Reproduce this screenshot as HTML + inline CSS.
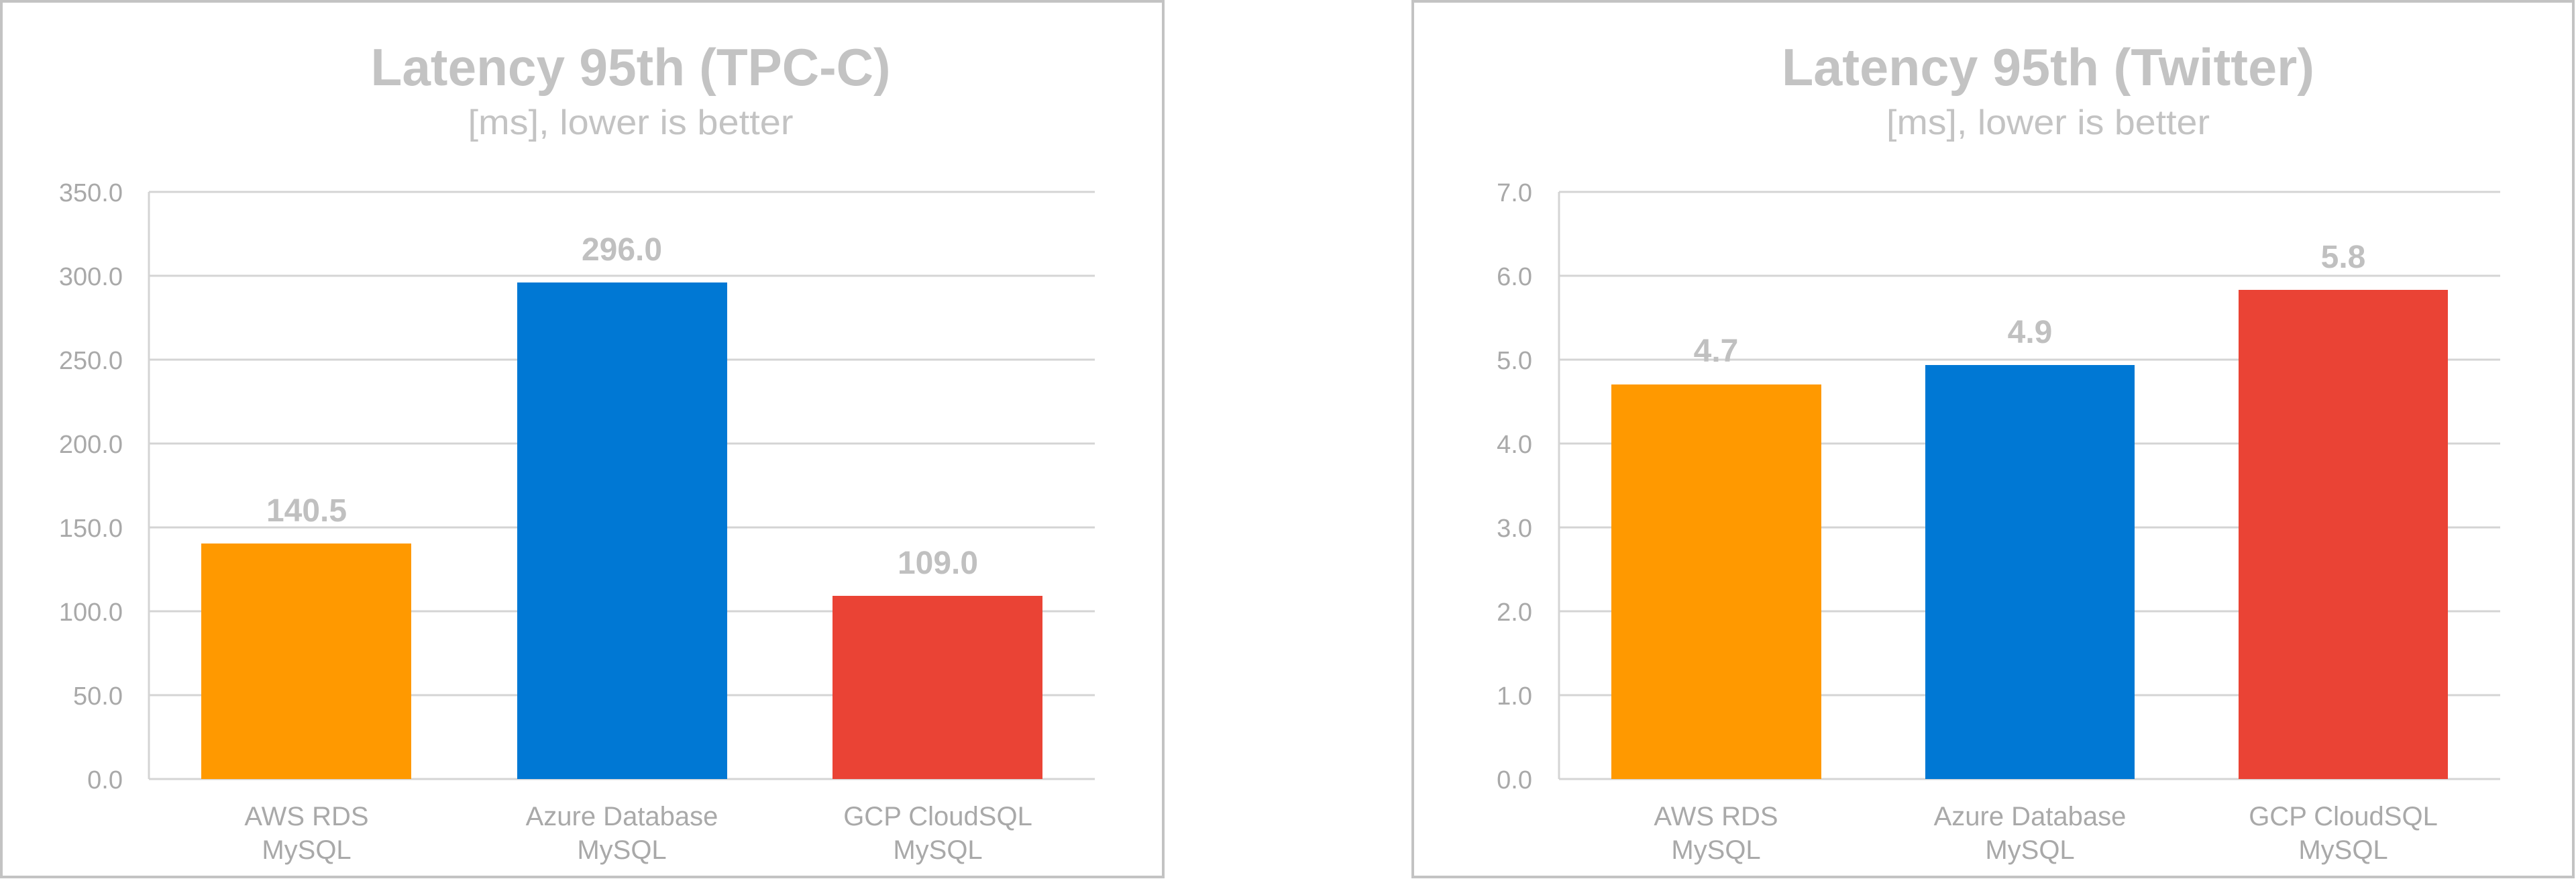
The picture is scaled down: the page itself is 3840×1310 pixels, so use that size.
<!DOCTYPE html>
<html><head><meta charset="utf-8"><style>
html,body{margin:0;padding:0;background:#fff;}
svg{display:block;}
text{font-family:"Liberation Sans Narrow","Liberation Sans",sans-serif;}
.t{font-weight:bold;font-size:78px;fill:#c3c3c3;}
.s{font-size:52px;fill:#c3c3c3;}
.y{font-size:38px;fill:#a9a9a9;}
.v{font-weight:bold;font-size:48px;fill:#c0c0c0;}
.c{font-size:40px;fill:#a9a9a9;}
.g{stroke:#d4d4d4;stroke-width:3;}
</style></head><body>
<svg width="3840" height="1310" viewBox="0 0 3840 1310" xmlns="http://www.w3.org/2000/svg">
<rect width="3840" height="1310" fill="#fff"/>
<!-- LEFT CHART -->
<rect x="2" y="2" width="1732" height="1305" fill="none" stroke="#c3c3c3" stroke-width="4"/>
<text class="t" x="940" y="127" text-anchor="middle" textLength="775" lengthAdjust="spacingAndGlyphs">Latency 95th (TPC-C)</text>
<text class="s" x="940" y="200" text-anchor="middle" textLength="485" lengthAdjust="spacingAndGlyphs">[ms], lower is better</text>
<g class="g">
<line x1="222" y1="286" x2="1632" y2="286"/>
<line x1="222" y1="411" x2="1632" y2="411"/>
<line x1="222" y1="536" x2="1632" y2="536"/>
<line x1="222" y1="661" x2="1632" y2="661"/>
<line x1="222" y1="786" x2="1632" y2="786"/>
<line x1="222" y1="911" x2="1632" y2="911"/>
<line x1="222" y1="1036" x2="1632" y2="1036"/>
<line x1="222" y1="1161" x2="1632" y2="1161"/>
<line x1="222" y1="286" x2="222" y2="1161"/>
</g>
<g class="y" text-anchor="end">
<text x="183" y="300">350.0</text><text x="183" y="425">300.0</text><text x="183" y="550">250.0</text>
<text x="183" y="675">200.0</text><text x="183" y="800">150.0</text><text x="183" y="925">100.0</text>
<text x="183" y="1050">50.0</text><text x="183" y="1175">0.0</text>
</g>
<rect x="300" y="810" width="313" height="351" fill="#FF9900"/>
<rect x="771" y="421" width="313" height="740" fill="#0078D4"/>
<rect x="1241" y="888" width="313" height="273" fill="#EA4335"/>
<g class="v" text-anchor="middle">
<text x="457" y="777">140.5</text><text x="927" y="388">296.0</text><text x="1398" y="855">109.0</text>
</g>
<g class="c" text-anchor="middle">
<text x="457" y="1230">AWS RDS</text><text x="457" y="1280">MySQL</text>
<text x="927" y="1230">Azure Database</text><text x="927" y="1280">MySQL</text>
<text x="1398" y="1230">GCP CloudSQL</text><text x="1398" y="1280">MySQL</text>
</g>
<!-- RIGHT CHART -->
<rect x="2106" y="2" width="1730" height="1305" fill="none" stroke="#c3c3c3" stroke-width="4"/>
<text class="t" x="3053" y="127" text-anchor="middle" textLength="794" lengthAdjust="spacingAndGlyphs">Latency 95th (Twitter)</text>
<text class="s" x="3053" y="200" text-anchor="middle" textLength="482" lengthAdjust="spacingAndGlyphs">[ms], lower is better</text>
<g class="g">
<line x1="2324" y1="286" x2="3727" y2="286"/>
<line x1="2324" y1="411" x2="3727" y2="411"/>
<line x1="2324" y1="536" x2="3727" y2="536"/>
<line x1="2324" y1="661" x2="3727" y2="661"/>
<line x1="2324" y1="786" x2="3727" y2="786"/>
<line x1="2324" y1="911" x2="3727" y2="911"/>
<line x1="2324" y1="1036" x2="3727" y2="1036"/>
<line x1="2324" y1="1161" x2="3727" y2="1161"/>
<line x1="2324" y1="286" x2="2324" y2="1161"/>
</g>
<g class="y" text-anchor="end">
<text x="2284" y="300">7.0</text><text x="2284" y="425">6.0</text><text x="2284" y="550">5.0</text>
<text x="2284" y="675">4.0</text><text x="2284" y="800">3.0</text><text x="2284" y="925">2.0</text>
<text x="2284" y="1050">1.0</text><text x="2284" y="1175">0.0</text>
</g>
<rect x="2402" y="573" width="313" height="588" fill="#FF9900"/>
<rect x="2870" y="544" width="312" height="617" fill="#0078D4"/>
<rect x="3337" y="432" width="312" height="729" fill="#EA4335"/>
<g class="v" text-anchor="middle">
<text x="2558" y="539">4.7</text><text x="3026" y="511">4.9</text><text x="3493" y="399">5.8</text>
</g>
<g class="c" text-anchor="middle">
<text x="2558" y="1230">AWS RDS</text><text x="2558" y="1280">MySQL</text>
<text x="3026" y="1230">Azure Database</text><text x="3026" y="1280">MySQL</text>
<text x="3493" y="1230">GCP CloudSQL</text><text x="3493" y="1280">MySQL</text>
</g>
</svg>
</body></html>
